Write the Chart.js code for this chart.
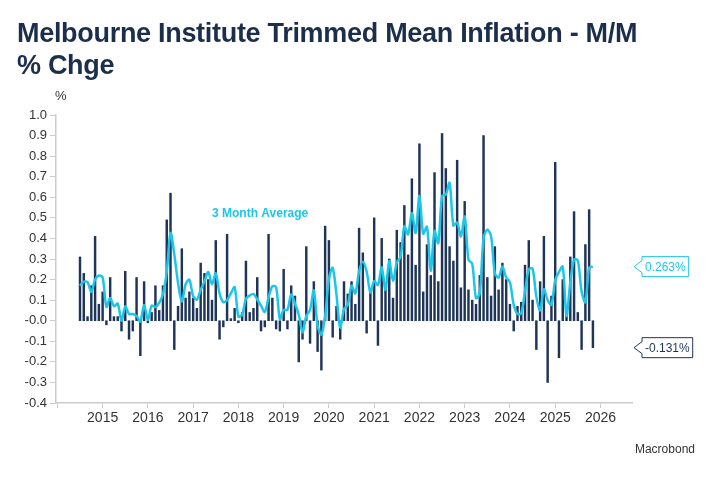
<!DOCTYPE html>
<html>
<head>
<meta charset="utf-8">
<script src="https://cdn.jsdelivr.net/npm/chart.js@4"></script>
<style>
  body { margin: 0; background: #fff; font-family: "Liberation Sans", Arial, sans-serif; }
  #wrap { position: relative; width: 717px; height: 478px; }
  #title { position: absolute; left: 17px; top: 17px; font-size: 27px; font-weight: bold; color: #1b2e4b; line-height: 32px; letter-spacing: -0.3px; }
  #unit { position: absolute; left: 55px; top: 88px; font-size: 13px; color: #333; }
  #source { position: absolute; right: 22px; top: 442px; font-size: 12px; color: #333; }
  canvas { position: absolute; left: 0; top: 0; }
</style>
</head>
<body>
<div id="wrap">
  <canvas id="chart" width="717" height="478"></canvas>
  <div id="title">Melbourne Institute Trimmed Mean Inflation - M/M<br>% Chge</div>
  <div id="unit">%</div>
  <div id="source">Macrobond</div>
</div>
<script>
// Monthly values, Jan 2015 onwards (index = months since Jan 2015)
const years = ['2015','2016','2017','2018','2019','2020','2021','2022','2023','2024','2025','2026'];
const monthlyChange = [
  0.31, 0.23, 0.02, 0.17, 0.41, 0.08, 0.14, -0.02, 0.21, 0.02, 0.02, -0.05,
  0.24, -0.09, -0.05, 0.21, -0.17, 0.19, -0.01, 0.04, 0.17, 0.05, 0.17, 0.49,
  0.62, -0.14, 0.07, 0.35, 0.11, 0.14, 0.11, 0.06, 0.28, 0.23, 0.20, 0.10,
  0.39, -0.09, -0.03, 0.42, 0.01, 0.06, -0.01, 0.04, 0.29, 0.04, 0.06, 0.21,
  -0.05, -0.03, 0.42, 0.11, -0.04, -0.05, 0.25, -0.04, 0.17, 0.12, -0.20, -0.09,
  0.36, -0.11, 0.19, -0.15, -0.24, 0.46, 0.39, -0.08, 0.07, -0.09, 0.19, 0.13,
  0.19, 0.08, 0.45, 0.33, -0.06, 0.14, 0.50, -0.12, 0.40, 0.17, 0.30, 0.11,
  0.44, 0.38, 0.56, 0.32, 0.69, 0.27, 0.86, 0.14, 0.37, 0.22, 0.72, 0.19,
  0.91, 0.74, 0.36, 0.29, 0.78, 0.16, 0.58, 0.15, 0.10, 0.08, 0.22, 0.90,
  0.21, 0.12, 0.36, 0.15, 0.28, 0.20, 0.08, -0.05, 0.07, 0.09, 0.27, 0.39,
  0.10, -0.14, 0.19, 0.41, -0.30, 0.12, 0.77, -0.18, 0.20, 0.05, 0.31, 0.53,
  0.04, -0.14, 0.37, 0.54, -0.131
];
const threeMonthAvg = [
  0.17, 0.19, 0.187, 0.14, 0.20, 0.22, 0.21, 0.067, 0.11, 0.07, 0.083, 0.0,
  0.07, 0.033, 0.033, 0.023, -0.003, 0.077, 0.003, 0.073, 0.067, 0.087, 0.13, 0.237,
  0.427, 0.323, 0.183, 0.093, 0.177, 0.20, 0.12, 0.103, 0.15, 0.19, 0.237, 0.177,
  0.23, 0.133, 0.09, 0.10, 0.133, 0.163, 0.02, 0.03, 0.107, 0.123, 0.13, 0.103,
  0.073, 0.043, 0.113, 0.167, 0.163, 0.007, 0.053, 0.053, 0.127, 0.083, 0.03, -0.057,
  0.023, 0.053, 0.147, -0.023, -0.067, 0.023, 0.203, 0.257, 0.127, -0.033, 0.057, 0.077,
  0.17, 0.133, 0.24, 0.287, 0.24, 0.137, 0.193, 0.173, 0.26, 0.15, 0.29, 0.193,
  0.283, 0.31, 0.46, 0.42, 0.523, 0.427, 0.607, 0.423, 0.457, 0.243, 0.437, 0.377,
  0.607, 0.613, 0.67, 0.463, 0.477, 0.41, 0.507, 0.297, 0.277, 0.11, 0.133, 0.40,
  0.443, 0.41, 0.23, 0.21, 0.263, 0.21, 0.187, 0.077, 0.033, 0.037, 0.143, 0.25,
  0.253, 0.117, 0.05, 0.153, 0.10, 0.077, 0.197, 0.237, 0.263, 0.023, 0.187, 0.297,
  0.293, 0.143, 0.09, 0.257, 0.263
];

const NAVY = '#1f3558';
const CYAN = '#1cc6e8';

// Year labels centred in each year, value boxes at the right, line annotation
const annotations = {
  id: 'annotations',
  afterDraw(chart) {
    const ctx = chart.ctx;
    const x = chart.scales.x, y = chart.scales.y;
    ctx.save();
    ctx.font = '14px "Liberation Sans", Arial, sans-serif';
    ctx.fillStyle = '#333';
    ctx.textAlign = 'center';
    ctx.textBaseline = 'top';
    years.forEach((yr, i) => ctx.fillText(yr, x.getPixelForValue(i * 12 + 6), y.bottom + 8));

    ctx.font = 'bold 12px "Liberation Sans", Arial, sans-serif';
    ctx.fillStyle = CYAN;
    ctx.textAlign = 'left';
    ctx.textBaseline = 'middle';
    ctx.fillText('3 Month Average', x.getPixelForValue(35), y.getPixelForValue(0.52));

    const last = monthlyChange.length - 1;
    const box = (val, color, text) => {
      const py = y.getPixelForValue(val);
      const bx = x.right + 10;
      ctx.font = '12px "Liberation Sans", Arial, sans-serif';
      const w = ctx.measureText(text).width + 6;
      ctx.beginPath();
      ctx.moveTo(x.right + 2, py);
      ctx.lineTo(bx, py - 6);
      ctx.lineTo(bx, py - 10);
      ctx.lineTo(bx + w, py - 10);
      ctx.lineTo(bx + w, py + 10);
      ctx.lineTo(bx, py + 10);
      ctx.lineTo(bx, py + 6);
      ctx.closePath();
      ctx.fillStyle = '#fff';
      ctx.fill();
      ctx.strokeStyle = color;
      ctx.lineWidth = 1;
      ctx.stroke();
      ctx.fillStyle = color;
      ctx.fillText(text, bx + 3, py + 1);
    };
    box(threeMonthAvg[last], CYAN, threeMonthAvg[last].toFixed(3) + '%');
    box(monthlyChange[last], NAVY, monthlyChange[last].toFixed(3) + '%');
    ctx.restore();
  }
};

new Chart(document.getElementById('chart'), {
  data: {
    datasets: [{
      type: 'line',
      data: threeMonthAvg.map((v, i) => ({ x: i, y: v })),
      borderColor: CYAN,
      borderWidth: 2.5,
      pointRadius: 0,
      tension: 0.3
    }, {
      type: 'bar',
      data: monthlyChange.map((v, i) => ({ x: i, y: v })),
      backgroundColor: NAVY,
      barThickness: 1.8
    }]
  },
  options: {
    responsive: false,
    animation: false,
    layout: { padding: { top: 115, right: 85, left: 0, bottom: 0 } },
    plugins: { legend: { display: false }, tooltip: { enabled: false } },
    scales: {
      x: {
        type: 'linear',
        min: 0,
        max: 140,
        afterBuildTicks: s => { s.ticks = years.map((_, i) => ({ value: i * 12 })); },
        afterFit: s => { s.height = 75; },
        ticks: { callback: () => '', autoSkip: false },
        grid: { display: true, drawOnChartArea: false, drawTicks: true, tickLength: 5, color: '#cccccc' },
        border: { color: '#cccccc', width: 1.5 }
      },
      y: {
        min: -0.4,
        max: 1.0,
        afterFit: s => { s.width = 56; },
        ticks: {
          stepSize: 0.1,
          color: '#333',
          font: { size: 13, family: '"Liberation Sans", Arial, sans-serif' },
          callback: v => v.toFixed(1)
        },
        grid: { display: true, drawOnChartArea: false, tickLength: 6, color: '#cccccc' },
        border: { color: '#cccccc', width: 1.5 }
      }
    }
  },
  plugins: [annotations]
});
</script>
</body>
</html>
